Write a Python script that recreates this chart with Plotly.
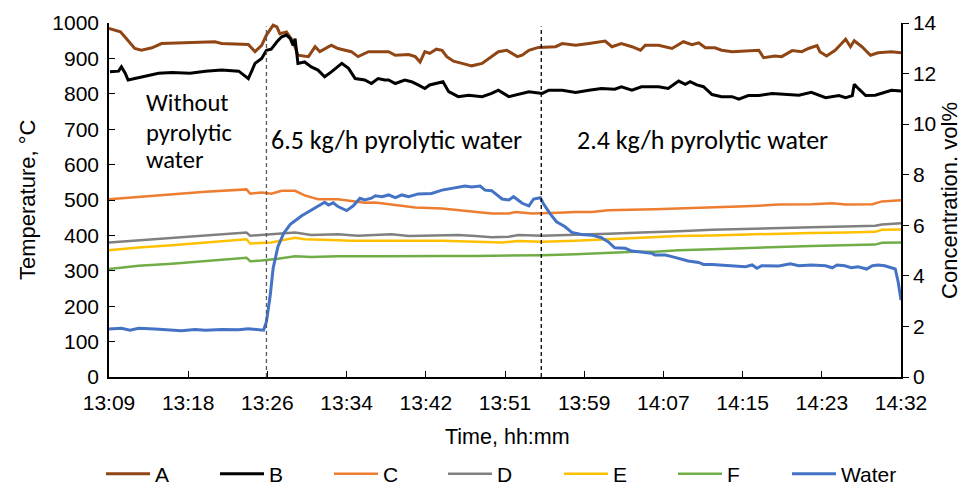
import plotly.graph_objects as go

# time axis: minutes after 13:09
tick_minutes = [0, 8.3, 16.6, 24.9, 33.2, 41.5, 49.8, 58.1, 66.4, 74.7, 83.0]
tick_labels = ["13:09", "13:18", "13:26", "13:34", "13:42", "13:51", "13:59", "14:07", "14:15", "14:23", "14:32"]

A_t = [0.0, 1.2, 1.7, 2.7, 3.4, 4.5, 5.5, 8.0, 11.1, 11.8, 13.0, 14.6, 15.3, 16.0, 16.5, 17.2, 17.6, 17.9, 18.6, 19.3,
       19.8, 20.9, 21.6, 22.1, 23.3, 24.0, 25.4, 26.1, 27.2, 27.9, 29.3, 30.0, 31.4, 32.1, 32.6, 33.1, 33.6, 34.3, 34.9,
       35.4, 36.1, 37.0, 38.0, 39.1, 39.8, 40.8, 41.7, 42.8, 43.3, 44.0, 45.0, 46.8, 47.5, 48.9, 50.3, 52.0, 52.7, 53.7,
       54.8, 55.7, 56.2, 57.6, 59.0, 60.2, 61.1, 61.8, 62.5, 63.5, 64.2, 65.3, 66.7, 68.1, 68.6, 69.8, 70.5, 71.6, 72.6,
       73.3, 74.2, 74.5, 75.2, 76.1, 76.6, 77.2, 77.7, 78.1, 78.9, 79.8, 80.6, 82.0, 83.0]
A_v = [985, 975, 960, 928, 923, 930, 942, 944, 947, 942, 940, 939, 919, 937, 966, 994, 989, 970, 975, 947,
       909, 905, 933, 919, 937, 928, 919, 905, 919, 919, 919, 909, 911, 905, 890, 919, 914, 926, 923,
       905, 892, 886, 879, 886, 900, 919, 923, 905, 909, 923, 931, 933, 942, 937, 942, 949, 933, 942,
       933, 923, 937, 937, 928, 947, 939, 944, 930, 930, 923, 919, 921, 923, 902, 907, 905, 922, 919,
       928, 936, 919, 907, 923, 937, 954, 933, 950, 933, 909, 916, 919, 916]

B_t = [0.1, 1.0, 1.3, 1.7, 2.0, 2.7, 3.4, 4.1, 5.2, 6.6, 8.5, 10.1, 11.8, 13.6, 14.6, 15.0, 15.3, 16.0, 16.5, 17.0,
       17.6, 18.1, 18.6, 19.0, 19.3, 19.5, 19.7, 19.8, 20.5, 21.2, 21.9, 22.6, 23.3, 24.4, 25.1, 25.8, 26.8, 27.5,
       28.2, 28.9, 29.3, 30.0, 31.0, 31.7, 32.4, 33.1, 33.6, 34.3, 35.0, 35.6, 36.6, 37.7, 39.1, 40.1, 40.8, 41.9,
       42.9, 44.0, 45.4, 46.1, 47.5, 48.9, 50.3, 51.6, 53.0, 53.7, 54.8, 55.8, 57.2, 57.6, 58.6, 59.7, 60.4, 60.9,
       61.6, 62.3, 63.2, 64.2, 65.3, 66.0, 67.0, 68.1, 69.5, 70.9, 72.3, 73.6, 75.1, 76.5, 77.2, 77.9, 78.1, 78.6,
       79.3, 80.3, 81.3, 82.0, 83.0]
B_v = [862, 864, 876, 858, 839, 843, 848, 853, 858, 860, 858, 864, 867, 864, 843, 867, 886, 900, 923, 926,
       947, 961, 966, 956, 937, 956, 919, 886, 890, 876, 867, 848, 862, 886, 872, 843, 839, 829,
       843, 839, 839, 829, 839, 834, 825, 815, 825, 829, 834, 806, 792, 796, 792, 801, 810, 792,
       798, 806, 801, 810, 810, 804, 810, 815, 813, 820, 810, 820, 820, 820, 815, 836, 827, 834,
       825, 820, 798, 792, 792, 785, 795, 795, 801, 798, 796, 804, 789, 795, 789, 795, 827, 813,
       795, 796, 804, 810, 808]

C_t = [0, 3.1, 6.6, 10.1, 14.4, 14.8, 16.0, 17.0, 18.1, 19.5, 20.5, 21.9, 24.0, 25.4, 26.8, 27.9, 28.9, 29.6, 31.4,
       32.1, 34.9, 37.0, 38.4, 40.1, 41.9, 42.6, 44.3, 45.4, 47.1, 48.9, 50.6, 52.3, 54.1, 55.8, 57.2, 59.7, 63.2,
       66.7, 70.2, 73.6, 75.8, 77.2, 80.0, 81.0, 83.0]
C_v = [502, 509, 516, 523, 530, 518, 521, 518, 526, 526, 513, 502, 502, 496, 492, 493, 490, 488, 483,
       479, 476, 471, 466, 462, 462, 466, 462, 462, 464, 466, 466, 471, 471, 473, 474, 476, 478,
       482, 487, 488, 491, 487, 488, 496, 499]

D_t = [0, 3.1, 6.6, 10.1, 14.4, 14.8, 16.0, 17.7, 19.5, 21.2, 24.0, 26.1, 28.9, 29.6, 31.4, 34.9, 36.6, 38.4, 40.1,
       41.9, 42.9, 45.4, 47.1, 48.9, 52.3, 55.8, 57.2, 59.7, 63.2, 66.7, 70.2, 73.6, 77.2, 80.3, 81.0, 83.0]
D_v = [380, 386, 394, 401, 408, 399, 401, 403, 408, 401, 403, 399, 401, 403, 398, 399, 401, 398, 395,
       396, 401, 399, 401, 403, 405, 408, 410, 412, 416, 419, 422, 423, 425, 427, 431, 434]

E_t = [0, 3.1, 6.6, 10.1, 14.4, 14.8, 16.0, 17.0, 18.1, 19.5, 20.5, 21.9, 24.0, 25.4, 28.9, 31.4, 34.9, 38.4, 41.2,
       42.9, 44.3, 45.4, 48.9, 52.3, 55.8, 57.2, 59.7, 63.2, 66.7, 70.2, 73.6, 77.2, 80.3, 81.0, 83.0]
E_v = [358, 366, 372, 380, 389, 377, 379, 380, 386, 393, 389, 387, 386, 385, 386, 385, 385, 382, 380,
       384, 382, 382, 385, 389, 394, 394, 398, 400, 403, 405, 407, 408, 410, 416, 417]

F_t = [0, 3.1, 6.6, 10.1, 14.4, 14.8, 16.0, 17.7, 19.5, 21.2, 24.0, 28.9, 31.4, 34.9, 38.4, 41.9, 45.4, 48.9, 52.3,
       55.1, 57.2, 59.7, 63.2, 66.7, 70.2, 73.6, 77.2, 80.3, 81.0, 83.0]
F_v = [305, 314, 320, 328, 337, 327, 329, 334, 341, 339, 341, 341, 342, 342, 342, 342, 344, 347, 352,
       354, 354, 358, 361, 365, 367, 370, 372, 374, 379, 380]

W_t = [0, 1.3, 2.2, 3.1, 4.8, 6.6, 7.6, 9.0, 10.1, 11.8, 13.6, 14.6, 15.7, 16.2, 16.5, 16.9, 17.2, 17.7, 18.3, 19.0,
       20.2, 21.6, 22.6, 23.0, 23.5, 24.0, 24.9, 25.6, 26.3, 26.8, 27.5, 27.9, 28.6, 29.3, 30.0, 30.7, 31.4, 32.4,
       33.8, 34.9, 36.3, 37.3, 38.0, 38.9, 39.4, 40.1, 41.2, 41.9, 42.4, 43.3, 44.0, 44.5, 45.2, 45.5, 46.2, 46.9,
       47.8, 48.5, 49.5, 50.6, 51.6, 52.3, 53.0, 54.1, 54.8, 55.8, 56.9, 57.2, 58.3, 59.0, 59.7, 60.7, 61.8, 62.3,
       63.2, 64.9, 66.7, 67.4, 67.9, 68.4, 70.2, 71.4, 72.3, 73.6, 75.1, 75.8, 76.3, 77.1, 77.8, 78.5, 79.4, 80.0,
       80.6, 81.3, 82.4, 82.7, 83.0]
W_v = [1.90, 1.93, 1.85, 1.93, 1.90, 1.87, 1.83, 1.88, 1.85, 1.88, 1.87, 1.91, 1.87, 1.85, 2.19, 3.24, 4.30, 5.15, 5.68, 6.04,
       6.38, 6.67, 6.91, 6.80, 6.89, 6.74, 6.58, 6.77, 7.07, 7.00, 7.07, 7.17, 7.13, 7.20, 7.09, 7.20, 7.13, 7.24,
       7.26, 7.39, 7.49, 7.55, 7.51, 7.55, 7.39, 7.37, 7.04, 7.00, 7.13, 6.87, 6.77, 7.04, 7.09, 6.87, 6.47, 6.14,
       5.94, 5.72, 5.64, 5.61, 5.51, 5.35, 5.11, 5.09, 4.98, 4.95, 4.89, 4.82, 4.82, 4.76, 4.69, 4.59, 4.53, 4.45,
       4.45, 4.40, 4.36, 4.43, 4.30, 4.40, 4.39, 4.48, 4.40, 4.43, 4.40, 4.32, 4.43, 4.40, 4.32, 4.36, 4.27, 4.40,
       4.43, 4.40, 4.27, 3.77, 3.04]

phase_bounds = [16.5, 45.3]
phase0_lines = ["Without", "pyrolytic", "water"]
phase_texts = ["6.5 kg/h pyrolytic water", "2.4 kg/h pyrolytic water"]

AX = "Liberation Sans, Arial, sans-serif"
TXT = "Carlito, Lato, sans-serif"

fig = go.Figure()
series = [
    ("A", A_t, A_v, "#8F4614", 3, "y", "legend"),
    ("B", B_t, B_v, "#000000", 3, "y", "legend"),
    ("C", C_t, C_v, "#ED7D31", 2.5, "y", "legend"),
    ("D", D_t, D_v, "#808080", 2.5, "y", "legend"),
    ("E", E_t, E_v, "#FFC000", 2.5, "y", "legend2"),
    ("F", F_t, F_v, "#70AD47", 2.5, "y", "legend2"),
    ("Water", W_t, W_v, "#4472C4", 3, "y2", "legend2"),
]
for name, t, v, col, w, ax, lg in series:
    fig.add_trace(go.Scatter(x=t, y=v, name=name, mode="lines", yaxis=ax, legend=lg,
                             line=dict(color=col, width=w)))

for i, xb in enumerate(phase_bounds):
    fig.add_shape(type="line", xref="x", yref="y", x0=xb, x1=xb, y0=0, y1=990,
                  line=dict(color="#595959" if i == 0 else "#000000", width=1.3, dash="4px,3px"))

for line, yv in zip(phase0_lines, [773, 690, 612]):
    fig.add_annotation(x=3.7, y=yv, xref="x", yref="y", text=line, showarrow=False,
                       xanchor="left", yanchor="middle", font=dict(family=TXT, size=24.5, color="#000"))
for text, xv in zip(phase_texts, [30.1, 62.2]):
    fig.add_annotation(x=xv, y=669, xref="x", yref="y", text=text, showarrow=False,
                       xanchor="center", yanchor="middle", font=dict(family=TXT, size=26, color="#000"))

title_font = dict(family=AX, size=22, color="#000")
fig.add_annotation(x=-0.1035, y=0.5, xref="paper", yref="paper", text="Temperature, °C", textangle=-90,
                   showarrow=False, xanchor="center", yanchor="middle", font=title_font)
fig.add_annotation(x=1.0605, y=0.5, xref="paper", yref="paper", text="Concentration. vol%", textangle=-90,
                   showarrow=False, xanchor="center", yanchor="middle", font=title_font)
fig.add_annotation(x=0.5035, y=-0.169, xref="paper", yref="paper", text="Time, hh:mm",
                   showarrow=False, xanchor="center", yanchor="middle", font=dict(family=AX, size=21.5, color="#000"))

legend_common = dict(orientation="h", xanchor="left", xref="container", y=14 / 480, yref="container",
                     yanchor="middle", entrywidth=55, entrywidthmode="pixels", font=dict(family=AX, size=21),
                     itemwidth=44, tracegroupgap=0, bgcolor="rgba(0,0,0,0)")

# the page body has an 8 px margin: the figure is sized so that the plot lands where the reference has it
fig.update_layout(
    width=966, height=480,
    margin=dict(l=101, r=73, t=15, b=111, autoexpand=False),
    paper_bgcolor="white", plot_bgcolor="white",
    font=dict(family=AX, size=21, color="#000"),
    showlegend=True,
    legend=dict(x=93 / 966, **legend_common),
    legend2=dict(x=551 / 966, **legend_common),
    xaxis=dict(range=[0, 83], tickvals=tick_minutes, ticktext=tick_labels, showgrid=False, zeroline=False,
               showline=True, linecolor="#000", linewidth=1.5, ticks="inside", ticklen=6, tickcolor="#000",
               ticklabelstandoff=6, automargin=False),
    yaxis=dict(range=[0, 1000], dtick=100, showgrid=False, zeroline=False, showline=True, linecolor="#000",
               linewidth=1.5, ticks="inside", ticklen=6, tickcolor="#000", ticklabelstandoff=4,
               automargin=False),
    yaxis2=dict(range=[0, 14], dtick=2, overlaying="y", side="right", showgrid=False, zeroline=False,
                showline=True, linecolor="#000", linewidth=1.5, ticks="outside", ticklen=6, tickcolor="#000",
                automargin=False),
)

fig.write_html("out.html")
